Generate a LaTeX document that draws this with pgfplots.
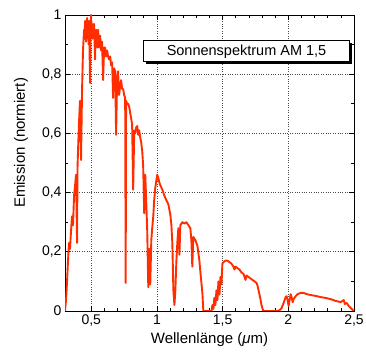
\documentclass[border=0pt]{standalone}
\usepackage{fontspec}
\setmainfont{Liberation Sans}
\usepackage{pgfplots}
\pgfplotsset{compat=1.18}
\usetikzlibrary{shadows}
\definecolor{spec}{RGB}{255,45,0}
\newcommand{\fs}{\fontsize{14bp}{16bp}\selectfont}
\newcommand{\fl}{\fontsize{15bp}{18bp}\selectfont}
\begin{document}
\begin{tikzpicture}
\path[use as bounding box] (-65bp,-47bp) rectangle (301bp,311bp);
\begin{axis}[
  scale only axis, width=289bp, height=296bp,
  xmin=0.3, xmax=2.5, ymin=0, ymax=1,
  xtick={0.5,1,1.5,2,2.5}, ytick={0,0.2,0.4,0.6,0.8,1},
  minor x tick num=4, minor y tick num=1,
  xticklabels={0{,}5,1,1{,}5,2,2{,}5},
  yticklabels={0,0{,}2,0{,}4,0{,}6,0{,}8,1},
  tick align=inside, major tick length=5bp, minor tick length=3bp,
  grid=major, major grid style={dotted, black!70, line width=0.6bp},
  axis line style={line width=0.9bp},
  tick style={black, line width=0.7bp},
  ticklabel style={font=\fs},
  label style={font=\fl},
  xlabel={Wellenlänge (\textit{μ}m)},
  ylabel={Emission (normiert)},
  xlabel style={at={(axis description cs:0.5,-0.098)}, anchor=center},
  ylabel style={at={(axis description cs:-0.152,0.568)}, anchor=center},
]
\addplot[color=spec, line width=1.9bp, line join=round] coordinates {
(0.300,0.000) (0.308,0.037) (0.315,0.095) (0.323,0.17) (0.330,0.23) (0.338,0.21)
(0.346,0.27) (0.353,0.32) (0.361,0.29) (0.369,0.39) (0.376,0.42) (0.384,0.46)
(0.392,0.23) (0.395,0.48) (0.399,0.54) (0.407,0.64) (0.414,0.71) (0.422,0.51)
(0.430,0.75) (0.437,0.88) (0.445,0.95) (0.449,0.92) (0.453,0.98) (0.460,0.91) (0.464,0.97) (0.468,0.99)
(0.472,0.93) (0.476,0.95) (0.480,0.90) (0.483,0.98) (0.491,0.77) (0.495,0.96) (0.499,1.0) (0.503,0.93) (0.506,0.97) (0.510,0.92) (0.514,0.94)
(0.521,0.97) (0.529,0.85) (0.533,0.93) (0.537,0.95) (0.544,0.93) (0.548,0.89) (0.552,0.95) (0.560,0.89)
(0.567,0.93) (0.575,0.88) (0.582,0.91) (0.590,0.78) (0.598,0.89) (0.605,0.89)
(0.613,0.86) (0.621,0.88) (0.628,0.86) (0.636,0.85) (0.644,0.86) (0.651,0.83)
(0.659,0.84) (0.666,0.72) (0.674,0.82) (0.682,0.81) (0.689,0.595) (0.697,0.79)
(0.704,0.81) (0.712,0.73) (0.720,0.76) (0.727,0.78) (0.735,0.75) (0.743,0.75)
(0.750,0.73) (0.758,0.72) (0.762,0.095) (0.765,0.71) (0.773,0.70) (0.781,0.70)
(0.789,0.69) (0.796,0.67) (0.804,0.65) (0.811,0.63) (0.819,0.41) (0.827,0.61)
(0.834,0.60) (0.842,0.62) (0.850,0.625) (0.857,0.595) (0.865,0.61) (0.873,0.585)
(0.880,0.57) (0.888,0.54) (0.895,0.49) (0.903,0.33) (0.911,0.46) (0.918,0.375)
(0.926,0.27) (0.934,0.08) (0.941,0.21) (0.949,0.09) (0.957,0.24) (0.964,0.28)
(0.972,0.32) (0.979,0.375) (0.987,0.415) (0.995,0.44) (1.002,0.46) (1.010,0.45)
(1.018,0.435) (1.025,0.425) (1.041,0.41) (1.056,0.39) (1.071,0.375) (1.087,0.36)
(1.102,0.325) (1.110,0.29) (1.117,0.23) (1.125,0.07) (1.133,0.02) (1.140,0.07)
(1.148,0.17) (1.155,0.23) (1.163,0.28) (1.171,0.19) (1.178,0.29) (1.194,0.30)
(1.209,0.295) (1.224,0.30) (1.239,0.29) (1.254,0.28) (1.262,0.24) (1.269,0.15)
(1.277,0.25) (1.292,0.24) (1.308,0.22) (1.323,0.17) (1.331,0.13) (1.346,0.06)
(1.353,0.0) (1.415,0.0) (1.422,0.02) (1.430,0.007) (1.437,0.045) (1.445,0.02)
(1.453,0.07) (1.460,0.037) (1.468,0.1) (1.476,0.055) (1.483,0.115) (1.491,0.09)
(1.498,0.16) (1.506,0.165) (1.521,0.17) (1.537,0.17) (1.552,0.165) (1.567,0.16)
(1.582,0.15) (1.590,0.14) (1.598,0.15) (1.613,0.145) (1.628,0.14) (1.644,0.13)
(1.659,0.125) (1.674,0.105) (1.682,0.12) (1.697,0.115) (1.712,0.11) (1.727,0.105)
(1.743,0.10) (1.758,0.095) (1.766,0.085) (1.773,0.07) (1.781,0.055) (1.789,0.037)
(1.796,0.02) (1.804,0.007) (1.811,0) (1.918,0) (1.934,0.003) (1.949,0.01)
(1.964,0.027) (1.979,0.047) (1.987,0.05) (1.995,0.037) (2.002,0.017) (2.010,0.037)
(2.018,0.057) (2.025,0.047) (2.033,0.03) (2.040,0.04) (2.056,0.05) (2.071,0.057)
(2.094,0.061) (2.117,0.061) (2.140,0.057) (2.170,0.054) (2.208,0.051) (2.247,0.047)
(2.285,0.044) (2.323,0.04) (2.361,0.034) (2.399,0.03) (2.422,0.037) (2.430,0.024)
(2.445,0.027) (2.460,0.017) (2.476,0.01) (2.491,0.003) (2.5,0)
};
\node[draw=black, line width=0.9bp, fill=white, minimum width=206bp, minimum height=21bp,
  inner sep=0pt, font=\fontsize{14.5bp}{17bp}\selectfont,
  drop shadow={shadow xshift=2bp, shadow yshift=-2bp, fill=black, opacity=1}]
  at (axis cs:1.682,0.877) {Sonnenspektrum AM 1,5};
\end{axis}
\end{tikzpicture}
\end{document}
